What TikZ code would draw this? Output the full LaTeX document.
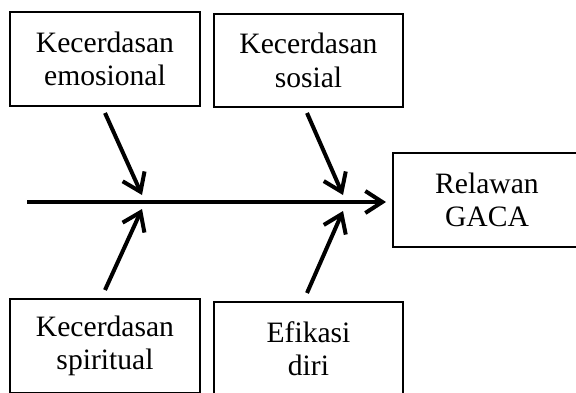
\documentclass[tikz,border=0pt]{standalone}
\usepackage{fontspec}
\setmainfont{Liberation Serif}
\usetikzlibrary{arrows.meta}
\begin{document}
\begin{tikzpicture}[x=1pt,y=-1pt,
  box/.style={draw=black,line width=1.8pt,minimum width=#1,inner sep=0pt,align=center,
    font=\fontsize{29.6}{33.5}\selectfont},
  box/.default=190pt,
  arr/.style={line width=4pt,-{Straight Barb[length=17pt,width=24pt,line width=4pt]}},
  spine/.style={line width=4.5pt,-{Straight Barb[length=17pt,width=22pt,line width=4pt]}}]
\useasboundingbox (0,0) rectangle (576,392);
\clip (0,0) rectangle (576,392);
\fill[white] (0,0) rectangle (576,392);
\node[box=190pt,minimum height=94pt] (b1) at (105,59) {Kecerdasan\\emosional};
\node[box=189pt,minimum height=93pt] (b2) at (308.5,60.5) {Kecerdasan\\sosial};
\node[box=188pt,minimum height=94pt] (b3) at (487,200) {Relawan\\GACA};
\node[box=190pt,minimum height=94pt] (b4) at (105,346) {Kecerdasan\\spiritual};
\node[box=189pt,minimum height=93pt] (b5) at (308.5,348.5) {Efikasi\\diri};
\coordinate (s0) at (27,202);
\coordinate (s1) at (386,202);
\coordinate (a1s) at (105,113); \coordinate (a1e) at (142,195);
\coordinate (a2s) at (307,113); \coordinate (a2e) at (343,195);
\coordinate (a3s) at (105,290); \coordinate (a3e) at (142,209);
\coordinate (a4s) at (307,293); \coordinate (a4e) at (343,211);
\draw[spine] (s0) -- (s1);
\draw[arr] (a1s) -- (a1e);
\draw[arr] (a2s) -- (a2e);
\draw[arr] (a3s) -- (a3e);
\draw[arr] (a4s) -- (a4e);
\end{tikzpicture}
\end{document}
